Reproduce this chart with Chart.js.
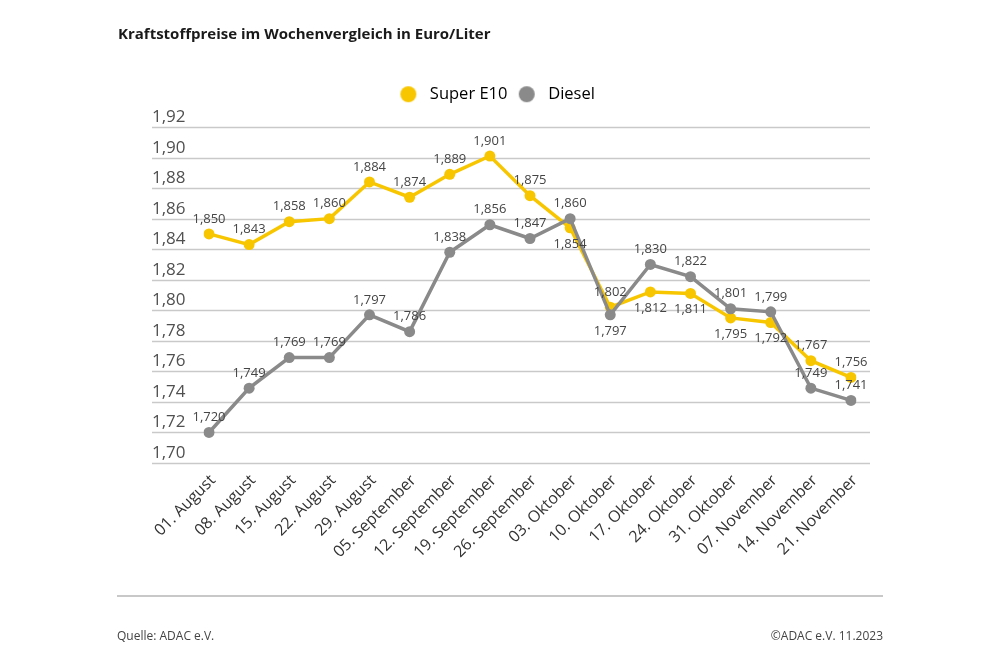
<!DOCTYPE html>
<html lang="de">
<head>
<meta charset="utf-8">
<title>Kraftstoffpreise im Wochenvergleich</title>
<script src="https://cdn.jsdelivr.net/npm/chart.js@4.4.0/dist/chart.umd.min.js"></script>
<style>
  html, body { margin: 0; padding: 0; background: #fff; }
  #wrap { position: relative; width: 1000px; height: 667px; overflow: hidden; font-family: "Open Sans", "Noto Sans", sans-serif; }
  #chart { position: absolute; left: 0; top: 0; }
  .title { position: absolute; left: 118px; top: 23px; font-size: 15px; font-weight: 700; color: #1a1a1a; }
  .rule { position: absolute; left: 117px; top: 595px; width: 766px; height: 2px; background: #c8c8c8; }
  .foot { position: absolute; top: 627px; font-size: 12px; color: #444; font-family: "Liberation Sans Narrow", "Open Sans", sans-serif; }
  .foot.left { left: 117px; }
  .foot.right { right: 117px; }
</style>
</head>
<body>
<div id="wrap">
  <canvas id="chart" width="1000" height="667"></canvas>
  <div class="title">Kraftstoffpreise im Wochenvergleich in Euro/Liter</div>
  <div class="rule"></div>
  <div class="foot left">Quelle: ADAC e.V.</div>
  <div class="foot right">©ADAC e.V. 11.2023</div>
</div>
<script>
// Daten
const weeks = ['01. August', '08. August', '15. August', '22. August', '29. August',
  '05. September', '12. September', '19. September', '26. September',
  '03. Oktober', '10. Oktober', '17. Oktober', '24. Oktober', '31. Oktober',
  '07. November', '14. November', '21. November'];
const superE10 = [1.850, 1.843, 1.858, 1.860, 1.884, 1.874, 1.889, 1.901, 1.875,
  1.854, 1.802, 1.812, 1.811, 1.795, 1.792, 1.767, 1.756];
const diesel = [1.720, 1.749, 1.769, 1.769, 1.797, 1.786, 1.838, 1.856, 1.847,
  1.860, 1.797, 1.830, 1.822, 1.801, 1.799, 1.749, 1.741];
const yTicks = [1.70, 1.72, 1.74, 1.76, 1.78, 1.80, 1.82, 1.84, 1.86, 1.88, 1.90, 1.92];

// Punkte, deren Beschriftung unter dem Punkt steht
const e10Below = [9, 11, 12, 13, 14];
const dieselBelow = [10];

const YELLOW = '#f8c600';
const GREY = '#8a8a8a';
const FONT = '"Open Sans", "Noto Sans", sans-serif';

function fmt(v) {
  return v.toFixed(3).replace('.', ',');
}

// Legendenpunkt: Kreis etwas links im Bild, damit mehr Luft zum Text bleibt
function makeDot(color) {
  const c = document.createElement('canvas');
  c.width = 30;
  c.height = 18;
  const g = c.getContext('2d');
  g.fillStyle = color;
  g.beginPath();
  g.arc(10, 9, 8, 0, Math.PI * 2);
  g.fill();
  return c;
}

// Horizontale Linien + Achsenbeschriftung links über der Linie
const gridPlugin = {
  id: 'gridLines',
  beforeDatasetsDraw(chart) {
    const ctx = chart.ctx;
    const y = chart.scales.y;
    const left = chart.chartArea.left - 57;
    const right = chart.chartArea.right + 19;
    ctx.save();
    ctx.lineWidth = 1.5;
    ctx.strokeStyle = '#c9c9c9';
    ctx.fillStyle = '#505050';
    ctx.font = '17px ' + FONT;
    ctx.textAlign = 'left';
    ctx.textBaseline = 'alphabetic';
    yTicks.forEach(v => {
      const py = Math.round(y.getPixelForValue(v)) + 0.5;
      ctx.beginPath();
      ctx.moveTo(left, py);
      ctx.lineTo(right, py);
      ctx.stroke();
      ctx.fillText(v.toFixed(2).replace('.', ','), left, py - 6);
    });
    ctx.restore();
  }
};

// Werte an den Punkten
const valuePlugin = {
  id: 'valueLabels',
  afterDatasetsDraw(chart) {
    const ctx = chart.ctx;
    ctx.save();
    ctx.font = '13px ' + FONT;
    ctx.fillStyle = '#454545';
    ctx.textAlign = 'center';
    ctx.textBaseline = 'middle';
    chart.data.datasets.forEach((ds, di) => {
      const meta = chart.getDatasetMeta(di);
      const below = di === 0 ? e10Below : dieselBelow;
      meta.data.forEach((pt, i) => {
        const dy = below.includes(i) ? 16 : -15;
        ctx.fillText(fmt(ds.data[i]), pt.x, pt.y + dy);
      });
    });
    ctx.restore();
  }
};

// etwas Abstand unter der Legende
const legendSpace = {
  id: 'legendSpace',
  beforeInit(chart) {
    const fit = chart.legend.fit;
    chart.legend.fit = function () {
      fit.bind(chart.legend)();
      this.height += 14.5;
    };
  }
};

const ctx = document.getElementById('chart').getContext('2d');
const chart = new Chart(ctx, {
  type: 'line',
  data: {
    labels: weeks,
    datasets: [
      {
        label: 'Super E10',
        data: superE10,
        borderColor: YELLOW,
        backgroundColor: YELLOW,
        pointBackgroundColor: YELLOW,
        pointBorderWidth: 0,
        borderWidth: 3.5,
        pointRadius: 5.5,
        tension: 0,
        order: 2
      },
      {
        label: 'Diesel',
        data: diesel,
        borderColor: GREY,
        backgroundColor: GREY,
        pointBackgroundColor: GREY,
        pointBorderWidth: 0,
        borderWidth: 3.5,
        pointRadius: 5.5,
        tension: 0,
        order: 1
      }
    ]
  },
  options: {
    responsive: false,
    animation: false,
    layout: {
      padding: { left: 149, right: 149, top: 70, bottom: 54 }
    },
    scales: {
      x: {
        offset: false,
        grid: { display: false, drawTicks: false },
        border: { display: false },
        ticks: {
          autoSkip: false,
          maxRotation: 45,
          minRotation: 45,
          padding: 8,
          labelOffset: 4,
          color: '#333',
          font: { family: FONT, size: 16 }
        },
        afterFit(scale) { scale.height = 150; }
      },
      y: {
        min: 1.70,
        max: 1.92,
        grid: { display: false },
        border: { display: false },
        ticks: { display: false },
        afterFit(scale) { scale.width = 60; }
      }
    },
    plugins: {
      legend: {
        position: 'top',
        labels: {
          usePointStyle: true,
          boxWidth: 16.5,
          boxHeight: 16.5,
          padding: 16,
          color: '#333',
          font: { family: FONT, size: 16.5 },
          sort: (a, b) => a.datasetIndex - b.datasetIndex,
          generateLabels(chart) {
            return chart.data.datasets.map((ds, i) => ({
              text: ds.label,
              fillStyle: ds.borderColor,
              strokeStyle: ds.borderColor,
              lineWidth: 0,
              pointStyle: makeDot(ds.borderColor),
              hidden: false,
              datasetIndex: i
            }));
          }
        }
      },
      tooltip: { enabled: false }
    }
  },
  plugins: [gridPlugin, valuePlugin, legendSpace]
});
</script>
</body>
</html>
